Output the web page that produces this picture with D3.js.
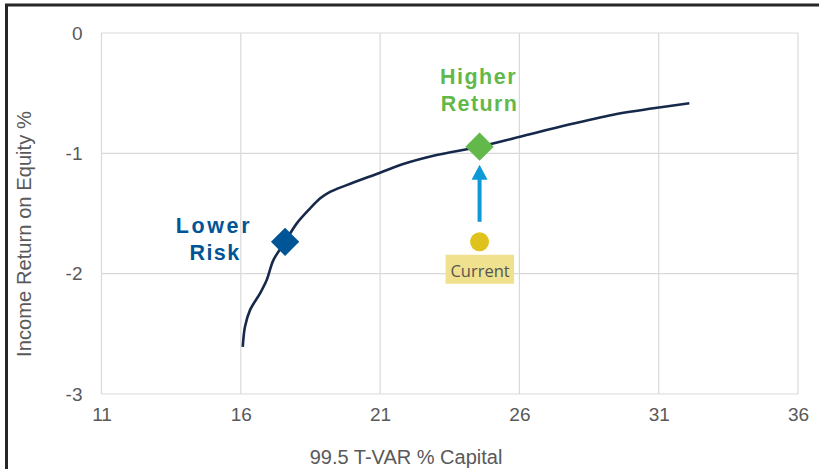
<!DOCTYPE html>
<html>
<head>
<meta charset="utf-8">
<script src="https://cdn.jsdelivr.net/npm/d3@7"></script>
<style>
  html, body { margin: 0; padding: 0; background: #fff; }
  svg { display: block; }
</style>
</head>
<body>
<svg id="chart" width="819" height="469"></svg>
<script>
// Efficient frontier: risk (99.5 T-VAR % capital) vs. income return on equity
const frontierRisk   = [16.07, 16.15, 16.33, 16.69, 16.93, 17.17, 17.59, 18.01, 18.49, 18.85, 19.14, 19.80, 21.00, 21.83, 23.03, 24.57, 26.02, 27.82, 29.49, 30.81, 32.10];
const frontierReturn = [-2.608, -2.441, -2.303, -2.164, -2.053, -1.887, -1.735, -1.582, -1.457, -1.374, -1.328, -1.264, -1.161, -1.089, -1.014, -0.945, -0.862, -0.759, -0.673, -0.626, -0.584];

const pointNames  = ["Lower Risk", "Higher Return", "Current"];
const pointRisk   = [17.59, 24.57, 24.57];
const pointReturn = [-1.735, -0.945, -1.735];

const xTicks = [11, 16, 21, 26, 31, 36];
const yTicks = [0, -1, -2, -3];

const svg = d3.select("#chart");
const plotLeft = 101.5, plotRight = 798, plotTop = 33, plotBottom = 394;

const x = d3.scaleLinear().domain([11, 36]).range([plotLeft, plotRight]);
const y = d3.scaleLinear().domain([-3, 0]).range([plotBottom, plotTop]);

// outer frame (left and top edges)
svg.append("path")
  .attr("d", "M6.5,469 V5 H819")
  .attr("fill", "none").attr("stroke", "#262626").attr("stroke-width", 3);

// gridlines
const grid = svg.append("g").attr("stroke", "#d9d9d9").attr("stroke-width", 1.2);
grid.selectAll("line.v").data(xTicks).join("line")
  .attr("class", "v")
  .attr("x1", d => x(d)).attr("x2", d => x(d))
  .attr("y1", plotTop).attr("y2", plotBottom);
grid.selectAll("line.h").data(yTicks).join("line")
  .attr("class", "h")
  .attr("x1", plotLeft).attr("x2", plotRight)
  .attr("y1", d => y(d)).attr("y2", d => y(d));

// axes (labels only), plain hyphen for negatives
const plain = d => String(d);
const xAxis = svg.append("g").attr("transform", `translate(0,${plotBottom})`)
  .call(d3.axisBottom(x).tickValues(xTicks).tickSize(0).tickPadding(14).tickFormat(plain));
const yAxis = svg.append("g").attr("transform", `translate(${plotLeft},0)`)
  .call(d3.axisLeft(y).tickValues(yTicks).tickSize(0).tickPadding(19).tickFormat(plain));
[xAxis, yAxis].forEach(a => {
  a.select(".domain").remove();
  a.selectAll("text")
    .attr("font-family", "'Liberation Sans', Arial, sans-serif")
    .attr("font-size", 19).attr("fill", "#595959");
});
xAxis.selectAll("text").attr("dy", "0.71em");

// axis titles
svg.append("text")
  .attr("x", 406).attr("y", 464)
  .attr("text-anchor", "middle")
  .attr("font-family", "'Liberation Sans', Arial, sans-serif")
  .attr("font-size", 20).attr("fill", "#595959")
  .text("99.5 T-VAR % Capital");
svg.append("text")
  .attr("transform", "translate(30.5,234) rotate(-90)")
  .attr("text-anchor", "middle")
  .attr("font-family", "'Liberation Sans', Arial, sans-serif")
  .attr("font-size", 20.2).attr("fill", "#595959")
  .text("Income Return on Equity %");

// frontier line
const frontier = d3.zip(frontierRisk, frontierReturn);
svg.append("path")
  .datum(frontier)
  .attr("fill", "none")
  .attr("stroke", "#17294b")
  .attr("stroke-width", 2.6)
  .attr("stroke-linejoin", "round")
  .attr("d", d3.line().x(d => x(d[0])).y(d => y(d[1])).curve(d3.curveCatmullRom.alpha(0.5)));

// arrow from current position up to the higher-return portfolio
const ax = x(pointRisk[2]);
const tipY = y(pointReturn[1]) + 18;
const tailY = y(pointReturn[2]) - 20;
svg.append("line")
  .attr("x1", ax).attr("x2", ax)
  .attr("y1", tailY).attr("y2", tipY + 12)
  .attr("stroke", "#0e9ad7").attr("stroke-width", 4);
svg.append("path")
  .attr("d", `M${ax},${tipY} L${ax + 8},${tipY + 15} L${ax - 8},${tipY + 15} Z`)
  .attr("fill", "#0e9ad7");

// current portfolio
svg.append("circle")
  .attr("cx", x(pointRisk[2])).attr("cy", y(pointReturn[2]))
  .attr("r", 9.5).attr("fill", "#dfc21b");

// diamonds
const diamond = d3.symbol().type(d3.symbolSquare).size(400);
const diamondColors = ["#005597", "#62b84a"];
[0, 1].forEach(i => {
  svg.append("path")
    .attr("d", diamond())
    .attr("transform", `translate(${x(pointRisk[i])},${y(pointReturn[i])}) rotate(45)`)
    .attr("fill", diamondColors[i]);
});

// "Current" tag
const cx = x(pointRisk[2]), cy = y(pointReturn[2]);
svg.append("rect")
  .attr("x", cx - 34).attr("y", cy + 13)
  .attr("width", 68.5).attr("height", 29)
  .attr("fill", "#efe18d");
svg.append("text")
  .attr("x", cx + 0.5).attr("y", cy + 35.5)
  .attr("text-anchor", "middle")
  .attr("font-family", "'Open Sans', sans-serif")
  .attr("font-size", 16.5).attr("fill", "#555")
  .text(pointNames[2]);

// callout labels
const boldFont = "'Liberation Sans', Arial, sans-serif";
function callout(lines, cxPos, baselines, color, spacing) {
  lines.forEach((t, i) => {
    svg.append("text")
      .attr("x", cxPos[i]).attr("y", baselines[i])
      .attr("text-anchor", "middle")
      .attr("font-family", boldFont).attr("font-weight", "bold")
      .attr("font-size", 21.5).attr("letter-spacing", spacing[i])
      .attr("fill", color)
      .text(t);
  });
}
const lowerWords = pointNames[0].split(" ");
const higherWords = pointNames[1].split(" ");
callout(lowerWords, [214, 215], [232.5, 260], "#005597", [2.6, 1.4]);
callout(higherWords, [478.5, 479.5], [83.5, 111], "#62b84a", [1.5, 1.4]);
</script>
</body>
</html>
